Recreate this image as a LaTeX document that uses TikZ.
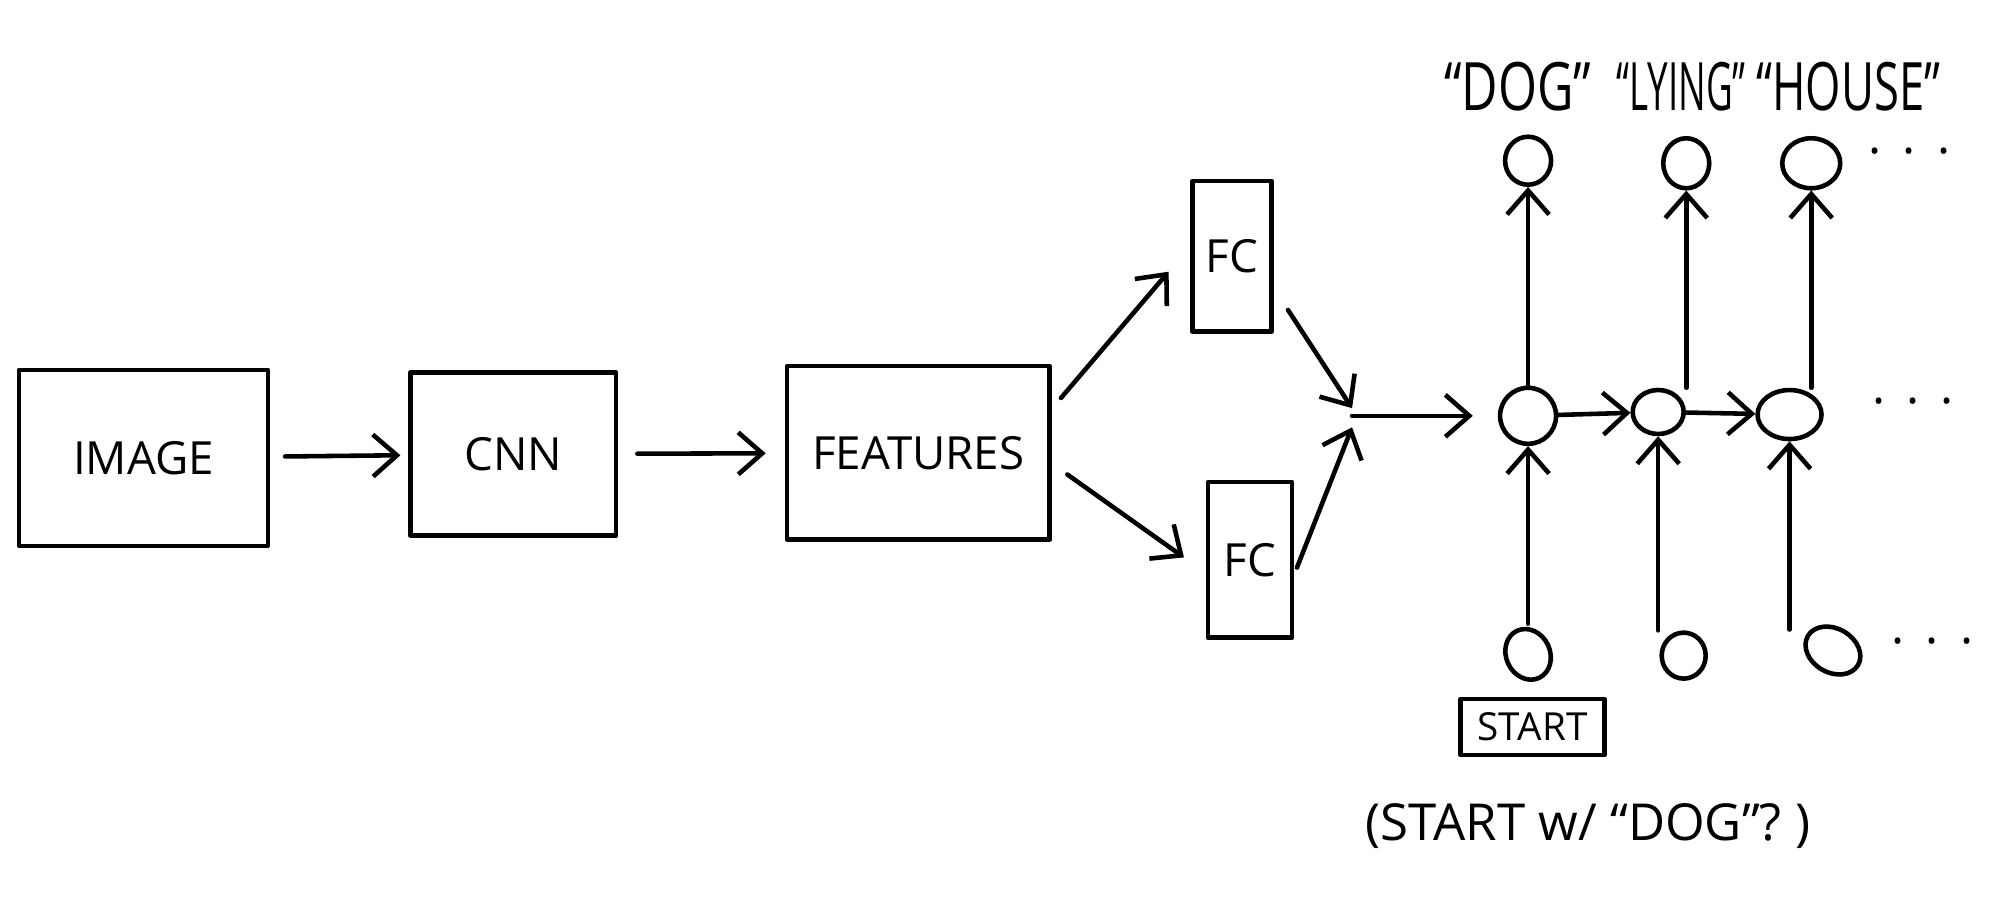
\documentclass[tikz,border=0pt]{standalone}
\usepackage{fontspec}
\setmainfont{Open Sans}
\usetikzlibrary{arrows.meta,shapes.geometric,calc}
\begin{document}
\begin{tikzpicture}[x=0.012755cm,y=-0.012755cm,
  ink/.style={line width=1.3pt, line cap=round, line join=round},
  box/.style={ink, draw, rectangle, inner sep=0pt},
  cell/.style={ink, draw, ellipse, inner sep=0pt},
  arr/.style={ink, -{Straight Barb[length=2.4mm,width=4.2mm]}},
  boxtext/.style={font=\fontsize{13}{15}\selectfont},
  word/.style={font=\fontsize{19}{22}\selectfont},
  dots/.style={font=\fontsize{14}{16}\selectfont}
]
\useasboundingbox (0,0) rectangle (1568,704);

% pipeline boxes
\node[box, boxtext, minimum width=2.487cm, minimum height=1.760cm] (img) at (112.5,359) {IMAGE};
\node[box, boxtext, minimum width=2.054cm, minimum height=1.633cm] (cnn) at (402.5,356) {CNN};
\node[box, boxtext, minimum width=2.628cm, minimum height=1.735cm] (feat) at (720,355) {FEATURES};
\node[box, boxtext, minimum width=0.791cm, minimum height=1.505cm] (fc1) at (966,201) {FC};
\node[box, boxtext, minimum width=0.842cm, minimum height=1.556cm] (fc2) at (980,439) {FC};

\draw[arr, shorten <=0.15cm, shorten >=0.08cm] (img) -- (cnn);
\draw[arr, shorten <=0.19cm, shorten >=0.19cm] (cnn) -- (feat);
\draw[arr] ($(feat.east)+(7,-43)$) -- ($(fc1.west)+(-17,12)$);
\draw[arr] ($(feat.east)+(12,17)$) -- ($(fc2.west)+(-17,-2)$);

% merge point of the two FC outputs
\coordinate (join) at (1060,326);
\draw[arr] ($(fc1.east)+(11,42)$) -- ($(join)+(0,-6)$);
\draw[arr] ($(fc2.east)+(2,6)$) -- ($(join)+(0,9)$);

% recurrent cells
\node[cell, minimum width=0.56cm, minimum height=0.56cm] (h1) at (1198,326) {};
\node[cell, minimum width=0.51cm, minimum height=0.44cm] (h2) at (1300,323) {};
\node[cell, minimum width=0.64cm, minimum height=0.49cm] (h3) at (1403,325) {};

\draw[arr, shorten >=0.25cm] (join) -- (h1);
\draw[arr] (h1) -- (h2);
\draw[arr] (h2) -- (h3);

% outputs
\node[cell, minimum width=0.46cm, minimum height=0.48cm] (o1) at (1198,126) {};
\node[cell, minimum width=0.46cm, minimum height=0.50cm] (o2) at (1322,128) {};
\node[cell, minimum width=0.58cm, minimum height=0.50cm] (o3) at (1420,128) {};

\draw[arr] (h1.north) -- (o1.south);
\draw[arr] (h2.north -| o2.south) -- (o2.south);
\draw[arr] (h3.north -| o3.south) -- (o3.south);

% inputs
\node[cell, minimum width=0.44cm, minimum height=0.52cm, rotate=25] (i1) at (1198,513) {};
\node[cell, minimum width=0.44cm, minimum height=0.46cm] (i2) at (1320,514) {};
\node[cell, minimum width=0.58cm, minimum height=0.44cm, rotate=-30] (i3) at (1437,510) {};

\draw[arr] ($(h1.south |- i1.center)+(0,-24)$) -- (h1.south);
\draw[arr] (i2.north -| h2.south) -- (h2.south);
\draw[arr] (h3.south |- i3.north) -- (h3.south);

% continuation dots
\node[dots] (dtop) at (1497,124) {·\hspace{6pt}·\hspace{6pt}·};
\node[dots] (dmid) at (1500,320) {·\hspace{6pt}·\hspace{6pt}·};
\node[dots] (dbot) at (1515,508) {·\hspace{6pt}·\hspace{6pt}·};

% words
\node[word] (wdog) at (1190,68) {\scalebox{0.75}[1]{“DOG”}};
\node[word] (wlying) at (1318,68) {\scalebox{0.55}[1]{“LYING”}};
\node[word] (whouse) at (1449,68) {\scalebox{0.68}[1]{“HOUSE”}};

% start token
\node[box, font=\fontsize{11}{13}\selectfont, minimum width=1.441cm, minimum height=0.561cm] (start) at (1201.5,570) {START};
\node[font=\fontsize{14.5}{17}\selectfont] (note) at (1245,648) {(START w/ “DOG”? )};
\end{tikzpicture}
\end{document}
